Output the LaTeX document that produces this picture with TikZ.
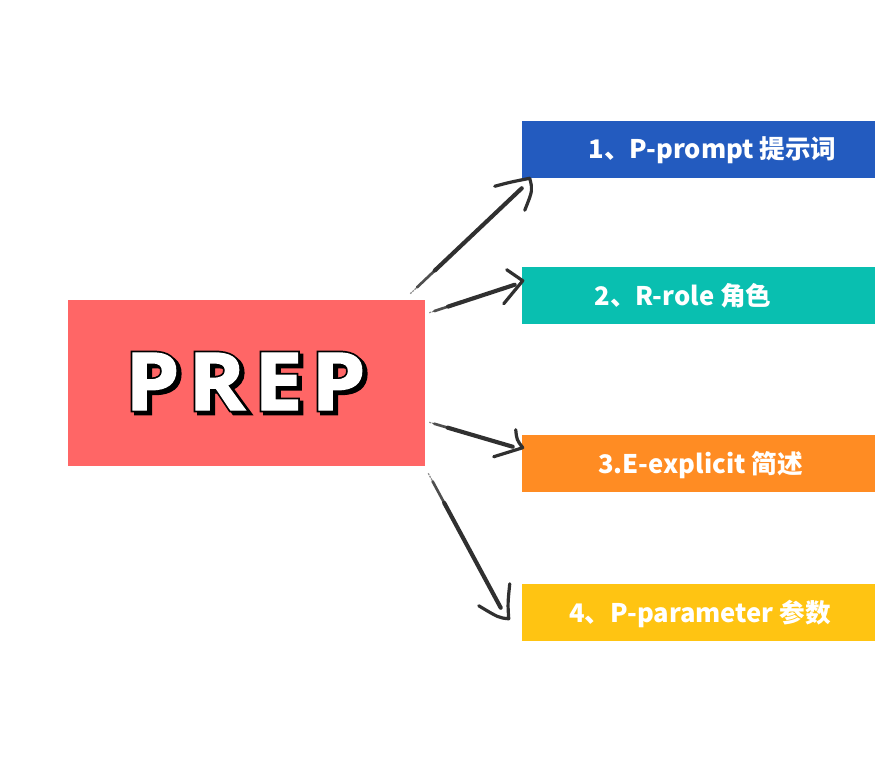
\documentclass[tikz,border=0pt]{standalone}
\usepackage{fontspec, xcolor}
\usetikzlibrary{calc}
\newfontfamily\labelfont{Noto Sans CJK SC}
\newfontfamily\titlefont[LetterSpace=11, FakeStretch=1.08]{Open Sans}
\definecolor{prepred}{HTML}{FF6666}
\definecolor{promptblue}{HTML}{235BBF}
\definecolor{roleteal}{HTML}{09BFB0}
\definecolor{explicitorange}{HTML}{FF8C23}
\definecolor{paramyellow}{HTML}{FFC412}
\definecolor{brushink}{HTML}{303030}
\newcommand{\outlined}[1]{\special{pdf:code q 2 Tr 3.6 w 0 0 0 RG 0 0 0 rg}#1\special{pdf:code Q}}
\newcommand{\thickened}[1]{\special{pdf:code q 2 Tr 1 w 1 1 1 RG 1 1 1 rg}#1\special{pdf:code Q}}
\tikzset{
    itembox/.style={inner sep=0pt, minimum width=264.75pt, minimum height=42.75pt},
    itemtext/.style={inner sep=0pt, text=white, font=\labelfont\bfseries\fontsize{19.2}{24}\selectfont},
    titletext/.style={inner sep=0pt, font=\titlefont\bfseries\fontsize{60}{66}\selectfont},
    brushfade/.style={draw=brushink!55, line width=0.9pt, dash pattern=on 1.5pt off 0.7pt},
    brushmid/.style={draw=brushink!85, line width=2pt, line cap=round},
    brushmain/.style={draw=brushink, line width=3.1pt, line cap=round},
    brushhead/.style={draw=brushink, line width=2.4pt, line cap=round, line join=round},
}
% shaft of a brush stroke: thin at its start, full width further on
\newcommand{\brushstroke}[2]{
    \draw [brushfade] (#1) -- (#2);
    \draw [brushmid] ($(#1)!0.06!(#2)$) -- (#2);
    \draw [brushmain] ($(#1)!0.22!(#2)$) -- (#2);
}
\begin{document}
\begin{tikzpicture}[x=0.75pt, y=-0.75pt]
    \useasboundingbox [fill=white] (0,0) rectangle (896,768);

    \node (prep) at (246.25,383) [fill=prepred, inner sep=0pt, minimum width=268.1pt, minimum height=124.5pt] {};
    \node (prompt) at (698.5,149.5) [itembox, fill=promptblue] {};
    \node (role) at (698.5,295.5) [itembox, fill=roleteal] {};
    \node (explicit) at (698.5,463.5) [itembox, fill=explicitorange] {};
    \node (param) at (698.5,612) [itembox, fill=paramyellow] {};

    \node (prepshadow) at (249,384.5) [titletext] {\outlined{PREP}};
    \node (prepoutline) at (245.5,381.5) [titletext] {\outlined{PREP}};
    \node (preptext) at (245.5,381.5) [titletext] {\thickened{PREP}};

    \node (prompttext) at (712.5,150.5) [itemtext] {1、P-prompt 提示词};
    \node (roletext) at (683,296) [itemtext] {2、R-role 角色};
    \node (explicittext) at (700.5,465) [itemtext] {3.E-explicit 简述};
    \node (paramtext) at (700,613.5) [itemtext] {4、P-parameter 参数};

    % arrow 1
    \coordinate (tipa) at ($(prompt.south west)+(8,0)$);
    \coordinate (starta) at ($(prep.north east)+(-15,-6)$);
    \brushstroke{starta}{$(tipa)+(-8,10)$}
    \draw [brushhead] ($(tipa)+(-35,8)$) .. controls ($(tipa)+(-20,4)$) .. (tipa) .. controls ($(tipa)+(3,12)$) .. ($(tipa)+(-5,32)$);
    % arrow 2
    \coordinate (tipb) at ($(role.north west)+(1,14)$);
    \coordinate (startb) at ($(prep.north east)+(4,13)$);
    \brushstroke{startb}{$(tipb)+(-8,4)$}
    \draw [brushhead] ($(tipb)+(-16,-11)$) -- (tipb) -- ($(tipb)+(-19,23)$);
    % arrow 3
    \coordinate (tipc) at ($(explicit.north west)+(1,13)$);
    \coordinate (startc) at ($(prep.south east)+(4,-44)$);
    \brushstroke{startc}{$(tipc)+(-10,-1)$}
    \draw [brushhead] ($(tipc)+(-7,-18)$) .. controls ($(tipc)+(-6,-8)$) .. (tipc) -- ($(tipc)+(-29,9)$);
    % arrow 4
    \coordinate (tipd) at ($(param.south west)+(-13,-22)$);
    \coordinate (startd) at ($(prep.south east)+(3,7)$);
    \brushstroke{startd}{$(tipd)+(-8,-11)$}
    \draw [brushhead] ($(tipd)+(1,-35)$) .. controls ($(tipd)+(-1,-15)$) .. (tipd) .. controls ($(tipd)+(-10,-1)$) .. ($(tipd)+(-30,-13)$);
\end{tikzpicture}
\end{document}
